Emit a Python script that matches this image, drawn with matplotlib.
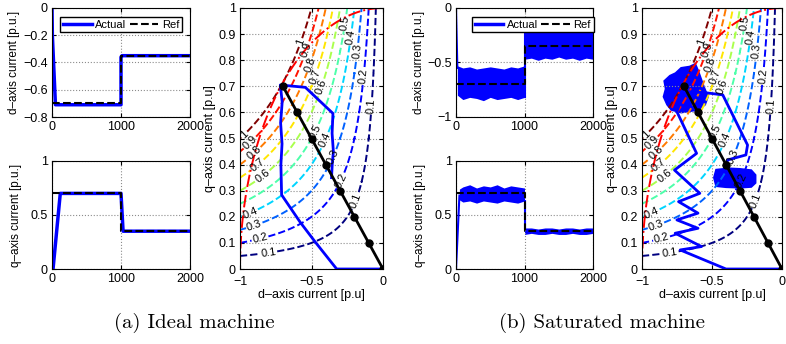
"""Ideal vs saturated machine: dq current step response and current-plane trajectories."""

import matplotlib

matplotlib.use("Agg")
import matplotlib.pyplot as plt
import numpy as np

plt.rcParams["font.family"] = ["Liberation Sans", "DejaVu Sans"]
plt.rcParams["axes.unicode_minus"] = True

BLUE = "#0000ff"

# --- time responses (t in samples) ---------------------------------------
ref_t = [0, 1000, 1000, 2000]
ref_d = [-0.7, -0.7, -0.35, -0.35]
ref_q = [0.7, 0.7, 0.35, 0.35]

ideal_t_d = [0, 5, 50, 80, 1000, 1000, 1015, 2000]
ideal_d = [0.0, -0.2, -0.71, -0.71, -0.71, -0.36, -0.35, -0.35]
ideal_t_q = [0, 15, 120, 1000, 1030, 2000]
ideal_q = [0.0, 0.0, 0.7, 0.7, 0.35, 0.35]

# saturated machine: noisy band drawn from its read envelope
sat_t_start = [0, 20]
sat_d_start = [0.0, -0.55]
sat_t1 = [20, 100, 200, 300, 400, 500, 600, 700, 800, 900, 1000]
sat_d_hi1 = [-0.53, -0.55, -0.54, -0.56, -0.55, -0.54, -0.55, -0.56, -0.54, -0.55, -0.53]
sat_d_lo1 = [-0.80, -0.84, -0.82, -0.83, -0.85, -0.82, -0.84, -0.83, -0.82, -0.84, -0.82]
sat_t2 = [1000, 1100, 1200, 1300, 1400, 1500, 1600, 1700, 1800, 1900, 2000]
sat_d_hi2 = [-0.21, -0.20, -0.22, -0.19, -0.21, -0.20, -0.22, -0.19, -0.20, -0.21, -0.20]
sat_d_lo2 = [-0.47, -0.46, -0.48, -0.46, -0.47, -0.45, -0.47, -0.46, -0.48, -0.46, -0.47]

sat_tq_start = [0, 50]
sat_q_start = [0.0, 0.68]
sat_tq1 = [50, 100, 200, 300, 400, 500, 600, 700, 800, 900, 1000]
sat_q_hi1 = [0.74, 0.76, 0.78, 0.75, 0.77, 0.76, 0.78, 0.75, 0.77, 0.76, 0.75]
sat_q_lo1 = [0.64, 0.62, 0.63, 0.61, 0.63, 0.62, 0.61, 0.63, 0.62, 0.61, 0.63]
sat_q_hi2 = [0.38, 0.38, 0.37, 0.38, 0.38, 0.37, 0.38, 0.38, 0.37, 0.38, 0.38]
sat_q_lo2 = [0.32, 0.33, 0.32, 0.32, 0.33, 0.32, 0.32, 0.33, 0.32, 0.32, 0.33]

# --- current plane ---------------------------------------------------------
TORQUE_LEVELS = [0.1, 0.2, 0.3, 0.4, 0.5, 0.6, 0.7, 0.8, 0.9, 1.0]
TORQUE_GAIN = 2.0  # T = -k * id * iq (reluctance torque, p.u.)
CURRENT_LIMIT = 1.0

mtpa_d = [0.0, -0.1, -0.2, -0.3, -0.4, -0.5, -0.6, -0.7]
mtpa_q = [0.0, 0.1, 0.2, 0.3, 0.4, 0.5, 0.6, 0.7]

ideal_traj_d = [0.0, -0.324, -0.476, -0.58, -0.709, -0.714, -0.706, -0.716, -0.705,
                -0.718, -0.543, -0.35, -0.356, -0.347, -0.355, -0.36]
ideal_traj_q = [0.0, 0.0, 0.105, 0.18, 0.284, 0.40, 0.48, 0.56, 0.64,
                0.705, 0.696, 0.596, 0.52, 0.45, 0.40, 0.35]

sat_traj_d = [0.0, -0.40, -0.727, -0.575, -0.763, -0.60, -0.751, -0.60, -0.739, -0.587,
              -0.768, -0.61, -0.751, -0.70, -0.54, -0.423, -0.246, -0.258, -0.387, -0.41, -0.35]
sat_traj_q = [0.0, 0.0, 0.073, 0.086, 0.137, 0.156, 0.188, 0.214, 0.258, 0.29,
              0.379, 0.443, 0.603, 0.68, 0.675, 0.667, 0.475, 0.437, 0.418, 0.387, 0.35]

blob1_d = [-0.80, -0.76, -0.72, -0.66, -0.62, -0.60, -0.58, -0.56, -0.53, -0.55,
           -0.60, -0.66, -0.72, -0.79, -0.82, -0.845, -0.83, -0.84]
blob1_q = [0.74, 0.75, 0.77, 0.775, 0.785, 0.76, 0.73, 0.70, 0.66, 0.63,
           0.61, 0.605, 0.60, 0.61, 0.63, 0.66, 0.69, 0.72]
blob2_d = [-0.47, -0.38, -0.30, -0.22, -0.19, -0.19, -0.22, -0.30, -0.40, -0.47, -0.485]
blob2_q = [0.38, 0.385, 0.383, 0.378, 0.36, 0.33, 0.315, 0.312, 0.314, 0.318, 0.35]

# label anchors (on the contours) for the inline torque labels
LABEL_D = [-0.08, -0.135, -0.18, -0.225, -0.265,
           -0.19, -0.295, -0.35, -0.405, -0.475, -0.43, -0.475, -0.51, -0.535, -0.575,
           -0.80, -0.86, -0.90, -0.93, -0.84, -0.88, -0.90, -0.93, -0.97]
LABEL_LVL = [0.1, 0.2, 0.3, 0.4, 0.5,
             0.1, 0.2, 0.3, 0.4, 0.5, 0.6, 0.7, 0.8, 0.9, 1.0,
             0.1, 0.2, 0.3, 0.4, 0.6, 0.7, 0.8, 0.9, 1.0]


def matlab_style(ax):
    ax.tick_params(direction="in", top=True, right=True, length=3, labelsize=9, pad=3)
    ax.grid(True, linestyle=":", color="0.55", linewidth=0.8)
    for s in ax.spines.values():
        s.set_linewidth(0.8)


def small_axes(fig, rect):
    ax = fig.add_axes(rect)
    ax.set_xlim(0, 2000)
    ax.set_xticks([0, 1000, 2000])
    matlab_style(ax)
    return ax


def current_plane(ax, traj_d, traj_q):
    id_ax = np.linspace(-1, 0, 301)
    iq_ax = np.linspace(0, 1, 301)
    ID, IQ = np.meshgrid(id_ax, iq_ax)
    cs = ax.contour(ID, IQ, -TORQUE_GAIN * ID * IQ, levels=TORQUE_LEVELS, cmap="jet",
                    linestyles="dashed", linewidths=1.4)
    pos = [(d, lv / (TORQUE_GAIN * -d)) for d, lv in zip(LABEL_D, LABEL_LVL)]
    ax.clabel(cs, inline=True, fontsize=8, fmt="%g", manual=pos, inline_spacing=1,
              colors="black")
    ax.contour(ID, IQ, np.hypot(ID, IQ), levels=[CURRENT_LIMIT], colors="red",
               linestyles="-.", linewidths=1.4)
    ax.plot(traj_d, traj_q, color=BLUE, lw=2)
    ax.plot(mtpa_d, mtpa_q, color="black", lw=2, marker="o", ms=5)
    ax.set_xlim(-1, 0)
    ax.set_ylim(0, 1)
    ax.set_xticks([-1, -0.5, 0])
    ax.set_xticklabels(["\u22121", "\u22120.5", "0"])
    ax.set_yticks(np.arange(0, 1.01, 0.1))
    ax.set_yticklabels(["0"] + [f"{v:.1f}" for v in np.arange(0.1, 0.95, 0.1)] + ["1"])
    ax.set_xlabel("d\u2013axis current [p.u]", fontsize=9, labelpad=1)
    ax.set_ylabel("q\u2013axis current [p.u]", fontsize=9, labelpad=2)
    matlab_style(ax)
    ax.tick_params(axis="x", pad=5)


def legend(ax, handles=None, labels=None, x=0.5):
    args = [] if handles is None else [handles, labels]
    ax.legend(*args, loc="upper center", bbox_to_anchor=(x, 0.97), ncol=2, fontsize=8,
              handlelength=2.6, handletextpad=0.3, columnspacing=0.3, borderpad=0.25,
              fancybox=False, edgecolor="black", framealpha=1)


W, H = 786, 344
fig = plt.figure(figsize=(W / 100, H / 100), dpi=100)


def rect(x0, y0, x1, y1):
    return [x0 / W, 1 - y1 / H, (x1 - x0) / W, (y1 - y0) / H]


# (a) ideal machine
ax = small_axes(fig, rect(52, 8, 190, 117))
ax.plot(ideal_t_d, ideal_d, color=BLUE, lw=2.5, label="Actual")
ax.plot(ref_t, ref_d, "k--", lw=1.5, label="Ref")
ax.set_ylim(-0.8, 0)
ax.set_yticks([0, -0.2, -0.4, -0.6, -0.8])
ax.set_yticklabels(["0", "\u22120.2", "\u22120.4", "\u22120.6", "\u22120.8"])
ax.set_ylabel("d\u2013axis current [p.u.]", fontsize=8.5, labelpad=2)
legend(ax)

ax = small_axes(fig, rect(52, 161, 190, 269))
ax.plot(ideal_t_q, ideal_q, color=BLUE, lw=2.5)
ax.plot(ref_t, ref_q, "k--", lw=1.5)
ax.set_ylim(0, 1)
ax.set_yticks([0, 0.5, 1])
ax.set_yticklabels(["0", "0.5", "1"])
ax.set_ylabel("q\u2013axis current [p.u.]", fontsize=8.5, labelpad=6)

ax = fig.add_axes(rect(240, 8, 383, 269))
current_plane(ax, ideal_traj_d, ideal_traj_q)

# (b) saturated machine
ax = small_axes(fig, rect(456, 8, 593, 117))
ax.plot(sat_t_start, sat_d_start, color=BLUE, lw=1.5)
ax.fill_between(sat_t1, sat_d_lo1, sat_d_hi1, color=BLUE, lw=0)
ax.fill_between(sat_t2, sat_d_lo2, sat_d_hi2, color=BLUE, lw=0)
ax.plot([1000, 1000], [sat_d_lo1[-1], sat_d_hi2[0]], color=BLUE, lw=1.5)
ax.plot(ref_t, ref_d, "k--", lw=1.5)
ax.set_ylim(-1, 0)
ax.set_yticks([0, -0.5, -1])
ax.set_yticklabels(["0", "\u22120.5", "\u22121"])
ax.set_ylabel("d\u2013axis current [p.u.]", fontsize=8.5, labelpad=2)
h = [plt.Line2D([], [], color=BLUE, lw=2.5), plt.Line2D([], [], color="k", ls="--", lw=1.5)]
legend(ax, h, ["Actual", "Ref"], x=0.56)

ax = small_axes(fig, rect(456, 161, 593, 269))
ax.plot(sat_tq_start, sat_q_start, color=BLUE, lw=1.5)
ax.fill_between(sat_tq1, sat_q_lo1, sat_q_hi1, color=BLUE, lw=0)
ax.fill_between(sat_t2, sat_q_lo2, sat_q_hi2, color=BLUE, lw=0)
ax.plot([1000, 1000], [sat_q_lo1[-1], sat_q_hi2[0]], color=BLUE, lw=1.5)
ax.plot(ref_t, ref_q, "k--", lw=1.5)
ax.set_ylim(0, 1)
ax.set_yticks([0, 0.5, 1])
ax.set_yticklabels(["0", "0.5", "1"])
ax.set_ylabel("q\u2013axis current [p.u.]", fontsize=8.5, labelpad=6)

ax = fig.add_axes(rect(642, 8, 782, 269))
current_plane(ax, sat_traj_d, sat_traj_q)
ax.fill(blob1_d, blob1_q, color=BLUE, lw=1.5, ec=BLUE)
ax.fill(blob2_d, blob2_q, color=BLUE, lw=1.5, ec=BLUE)

# sub-captions
fig.text(194 / W, 1 - 323 / H, "(a) Ideal machine", family="cmr10", fontsize=15,
         ha="center", va="center")
fig.text(602 / W, 1 - 323 / H, "(b) Saturated machine", family="cmr10", fontsize=15,
         ha="center", va="center")

fig.savefig("out.png", dpi=100)
